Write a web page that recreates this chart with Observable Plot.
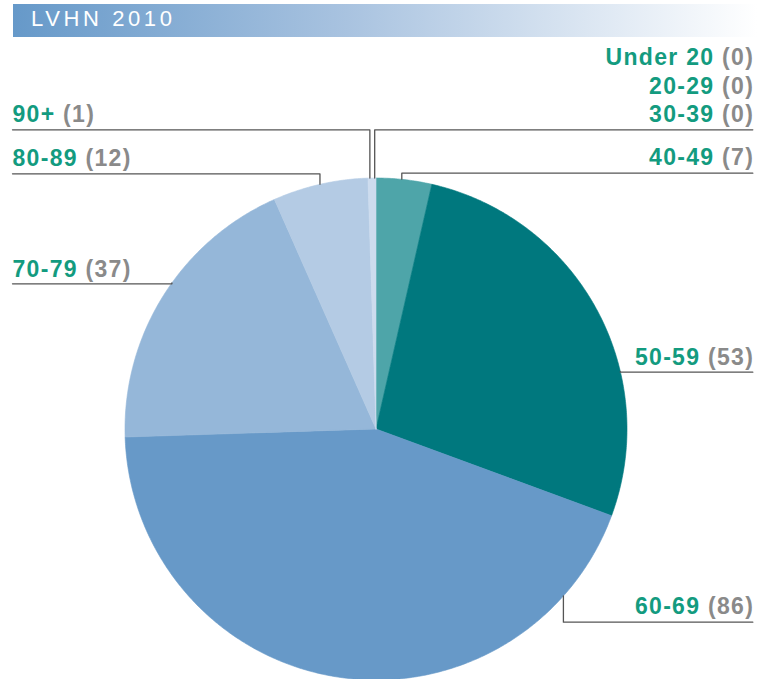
<!DOCTYPE html>
<html>
<head>
<meta charset="utf-8">
<script src="https://cdn.jsdelivr.net/npm/d3@7"></script>
<script src="https://cdn.jsdelivr.net/npm/@observablehq/plot@0.6"></script>
<style>
  body { margin: 0; background: #fff; font-family: "Liberation Sans", Arial, Helvetica, sans-serif; }
  #header { position: relative; width: 770px; height: 40px; }
  #bar { position: absolute; left: 13px; top: 4px; width: 744px; height: 33px;
         background: linear-gradient(to right, #6699c9 0%, #a9c3e0 45%, #ffffff 100%); }
  #bar span { position: absolute; left: 18px; top: 4px; font-size: 22px; line-height: 22px;
              color: #fff; letter-spacing: 3.6px; white-space: nowrap; }
  #chart svg { display: block; }
  #chart text { letter-spacing: 1.3px; }
</style>
</head>
<body>
<div id="header"><div id="bar"><span>LVHN 2010</span></div></div>
<div id="chart"></div>
<script>
// ---- data ----
const ageGroups = ["Under 20", "20-29", "30-39", "40-49", "50-59", "60-69", "70-79", "80-89", "90+"];
const counts    = [0, 0, 0, 7, 53, 86, 37, 12, 1];

// ---- styles / layout ----
const sliceColors = ["#4ea5a9", "#4ea5a9", "#4ea5a9", "#4ea5a9", "#00787e", "#6799c8", "#95b7d9", "#b4cbe4", "#cddcee"];
const labelSide   = ["right", "right", "right", "right", "right", "right", "left", "left", "left"];
const labelBase   = [64.3, 93.5, 121.5, 164, 364.5, 613.5, 276.5, 165.5, 121.7];
const leaderGroup = ["30-39", "40-49", "50-59", "60-69", "70-79", "80-89", "90+"];
const leaderY     = [129.3, 172.7, 371.7, 621.7, 283.3, 173.3, 129.3];
const leaderAngle = [359.7, 5.9, 76.8, 131.7, 305.6, 347.1, 358.6];

const W = 770, H = 679, TOP = 40;
const cx = 375.5, cy = 428.5, R = 251;
const leftX = 12, rightX = 752.3;
const green = "#139b7f", gray = "#8a8a8a";

// ---- pie geometry from data ----
const total = d3.sum(counts);
let acc = 0;
const slicePts = [];
ageGroups.forEach((g, i) => {
  const v = counts[i];
  if (!v) return;
  const a0 = acc / total * 2 * Math.PI; acc += v;
  const a1 = acc / total * 2 * Math.PI;
  const n = Math.max(2, Math.ceil((a1 - a0) / (Math.PI / 360)));
  slicePts.push({g, x: cx, y: cy});
  for (let k = 0; k <= n; k++) {
    const a = a0 + (a1 - a0) * k / n;
    slicePts.push({g, x: cx + R * Math.sin(a), y: cy - R * Math.cos(a)});
  }
  slicePts.push({g, x: cx, y: cy});
});

// ---- leader lines ----
const leaderPts = [];
leaderGroup.forEach((g, i) => {
  const side = labelSide[ageGroups.indexOf(g)];
  const a = leaderAngle[i] * Math.PI / 180;
  const ax = cx + R * Math.sin(a), ay = cy - R * Math.cos(a);
  const ox = side === "right" ? rightX : leftX;
  leaderPts.push({g, x: ox, y: leaderY[i]}, {g, x: ax, y: leaderY[i]}, {g, x: ax, y: ay});
});

// ---- labels ----
const labels = ageGroups.map((g, i) => ({g, n: counts[i], side: labelSide[i], y: labelBase[i]}));
const txt = d => `${d.g} (${d.n})`;

const svg = Plot.plot({
  width: W, height: H - TOP,
  margin: 0,
  x: {type: "linear", domain: [0, W], range: [0, W], axis: null},
  y: {type: "linear", domain: [TOP, H], range: [0, H - TOP], axis: null},
  color: {domain: ageGroups, range: sliceColors},
  marks: [
    Plot.line(slicePts, {x: "x", y: "y", z: "g", fill: "g", stroke: "g", strokeWidth: 0.6, curve: "linear"}),
    Plot.line(leaderPts, {x: "x", y: "y", z: "g", stroke: "#555555", strokeWidth: 1.3, curve: "linear"}),
    Plot.text(labels.filter(d => d.side === "left"), {x: () => leftX, y: "y", text: txt, textAnchor: "start",
      lineAnchor: "bottom", fontSize: 23, fontWeight: "bold", fill: green, fontFamily: "Liberation Sans, Arial, sans-serif"}),
    Plot.text(labels.filter(d => d.side === "right"), {x: () => rightX + 1.3, y: "y", text: txt, textAnchor: "end",
      lineAnchor: "bottom", fontSize: 23, fontWeight: "bold", fill: green, fontFamily: "Liberation Sans, Arial, sans-serif"})
  ]
});

// split label texts into coloured parts
svg.querySelectorAll('g[aria-label="text"] text').forEach(t => {
  const s = t.textContent;
  const k = s.lastIndexOf(" (");
  if (k < 0) return;
  const ns = "http://www.w3.org/2000/svg";
  while (t.firstChild) t.removeChild(t.firstChild);
  const a = document.createElementNS(ns, "tspan");
  a.setAttribute("fill", green); a.textContent = s.slice(0, k);
  const b = document.createElementNS(ns, "tspan");
  b.setAttribute("fill", gray); b.textContent = s.slice(k);
  t.appendChild(a); t.appendChild(b);
});

document.getElementById("chart").appendChild(svg);
</script>
</body>
</html>
